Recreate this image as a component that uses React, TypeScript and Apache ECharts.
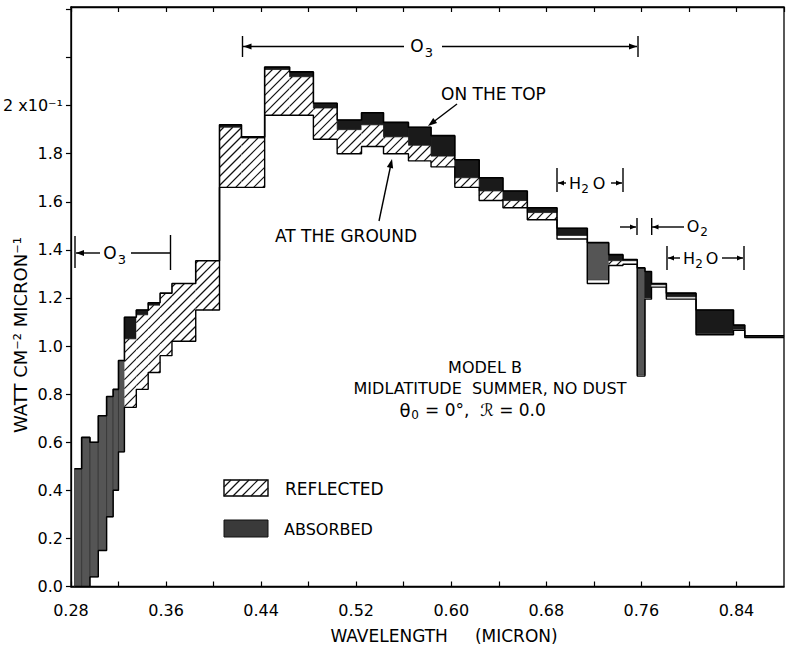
import React, { useEffect, useRef } from "react";
import * as echarts from "echarts";

// Wavelength bin edges (micron)
const binEdges = [
  0.283, 0.289, 0.296, 0.303, 0.31, 0.3155, 0.32, 0.325, 0.335, 0.345, 0.355,
  0.365, 0.385, 0.405, 0.4235, 0.443, 0.464, 0.484, 0.504, 0.5245, 0.543, 0.564,
  0.583, 0.603, 0.6235, 0.6435, 0.664, 0.689, 0.7145, 0.7325, 0.7445, 0.7565,
  0.763, 0.7685, 0.781, 0.806, 0.8375, 0.847, 0.88,
];
// Flux on the top of the atmosphere (x 10^-1 W cm^-2 micron^-1)
const topFlux = [
  0.49, 0.62, 0.6, 0.71, 0.79, 0.82, 0.94, 1.12, 1.15, 1.18, 1.22, 1.26, 1.355,
  1.92, 1.87, 2.16, 2.14, 2.01, 1.94, 1.97, 1.93, 1.91, 1.875, 1.775, 1.7, 1.645,
  1.575, 1.49, 1.43, 1.38, 1.36, 1.325, 1.31, 1.26, 1.22, 1.15, 1.087, 1.043,
];
// Flux at the ground
const groundFlux = [
  0, 0, 0.04, 0.15, 0.29, 0.4, 0.56, 0.745, 0.82, 0.89, 0.96, 1.02, 1.15, 1.66,
  1.66, 1.96, 1.96, 1.86, 1.8, 1.83, 1.8, 1.77, 1.745, 1.66, 1.605, 1.575, 1.525,
  1.445, 1.26, 1.335, 1.34, 0.875, 1.195, 1.245, 1.195, 1.047, 1.065, 1.035,
];
// Reflected part (the rest up to the top flux is absorbed)
const reflectedFlux = [
  0, 0, 0, 0, 0, 0, 0, 0.285, 0.31, 0.28, 0.26, 0.24, 0.205, 0.25, 0.205, 0.19,
  0.16, 0.13, 0.1, 0.09, 0.07, 0.065, 0.045, 0.04, 0.04, 0.03, 0.03, 0.015, 0.015,
  0.02, 0.015, 0.005, 0.005, 0.01, 0.01, 0.005, 0.005, 0.005,
];
const xTickValues = [0.28, 0.36, 0.44, 0.52, 0.6, 0.68, 0.76, 0.84];
const yTickLabels = ["0.0", "0.2", "0.4", "0.6", "0.8", "1.0", "1.2", "1.4", "1.6", "1.8", "2 x10⁻¹"];

const FONT = "'DejaVu Sans', 'Liberation Sans', sans-serif";
const X_MIN = 0.28, X_MAX = 0.88, Y_MAX = 2.41;
const G_LEFT = 70, G_TOP = 7, G_W = 714, G_H = 579.5;
const HATCH = 9;

function hatchLines(x0: number, yTop: number, x1: number, yBot: number, color = "#111") {
  const out: any[] = [];
  const cStart = Math.ceil((x0 + yTop) / HATCH) * HATCH;
  for (let c = cStart; c <= x1 + yBot; c += HATCH) {
    const xa = Math.max(x0, c - yBot);
    const xb = Math.min(x1, c - yTop);
    if (xb - xa > 0.6) {
      out.push({
        type: "line",
        shape: { x1: xa, y1: c - xa, x2: xb, y2: c - xb },
        style: { stroke: color, lineWidth: 1.2 },
      });
    }
  }
  return out;
}

const seg = (x1: number, y1: number, x2: number, y2: number, w = 1.4) => ({
  type: "line",
  silent: true,
  shape: { x1, y1, x2, y2 },
  style: { stroke: "#000", lineWidth: w },
});
const arrowHead = (tx: number, ty: number, dx: number, dy: number, len = 8, hw = 3) => {
  const n = Math.hypot(dx, dy);
  const ux = dx / n, uy = dy / n;
  const bx = tx - ux * len, by = ty - uy * len;
  return {
    type: "polygon",
    silent: true,
    shape: { points: [[tx, ty], [bx - uy * hw, by + ux * hw], [bx + uy * hw, by - ux * hw]] },
    style: { fill: "#000" },
  };
};
const txt = (text: string, x: number, y: number, size = 16, align = "center", rotation = 0) => ({
  type: "text",
  silent: true,
  x,
  y,
  rotation,
  style: {
    text,
    x: 0,
    y: 0,
    fontSize: size,
    fontFamily: FONT,
    fill: "#000",
    align,
    verticalAlign: "middle",
    textAlign: align,
    textVerticalAlign: "middle",
  },
});

export default function App() {
  const ref = useRef<HTMLDivElement>(null);
  useEffect(() => {
    document.body.style.margin = "0";
    const chart = echarts.init(ref.current!, null, { renderer: "svg" });

    const n = topFlux.length;
    const binData = topFlux.map((t, i) => [
      binEdges[i],
      binEdges[i + 1],
      groundFlux[i],
      groundFlux[i] + reflectedFlux[i],
      t,
    ]);
    const stepData = (vals: number[]) => {
      const d = vals.map((v, i) => [binEdges[i], v]);
      d.push([binEdges[n], vals[n - 1]]);
      return d;
    };

    const renderItem = (params: any, api: any) => {
      const x0 = api.value(0), x1 = api.value(1), g = api.value(2), r = api.value(3), t = api.value(4);
      const pG = api.coord([x0, g]);
      const pR = api.coord([x1, r]);
      const pT = api.coord([x1, t]);
      const children: any[] = [];
      if (r - g > 1e-6) {
        children.push({
          type: "rect",
          shape: { x: pG[0], y: pR[1], width: pR[0] - pG[0], height: pG[1] - pR[1] },
          style: { fill: "#fff" },
        });
        if (pG[1] - pR[1] > 4) children.push(...hatchLines(pG[0], pR[1], pR[0], pG[1]));
      }
      if (t - r > 1e-6) {
        const h = pR[1] - pT[1];
        children.push({
          type: "rect",
          shape: { x: pG[0], y: pT[1], width: pT[0] - pG[0], height: h },
          style: { fill: h > 30 ? "#555" : "#1a1a1a", stroke: h > 30 ? "#333" : "#1a1a1a", lineWidth: 0.8 },
        });
      }
      return { type: "group", children };
    };

    const axisFont = { fontFamily: FONT, fontSize: 16, color: "#000" };

    const graphic: any[] = [
      // axis titles
      txt("WATT CM⁻² MICRON⁻¹", 20, 335, 18, "center", Math.PI / 2),
      txt("WAVELENGTH     (MICRON)", 444, 636, 17),
      // O3 (top)
      seg(243, 46.5, 404, 46.5),
      seg(442, 46.5, 637, 46.5),
      seg(242.5, 36, 242.5, 57),
      seg(638, 36, 638, 57),
      arrowHead(243.5, 46.5, -1, 0),
      arrowHead(637, 46.5, 1, 0),
      txt("O", 417, 46, 17),
      txt("3", 429, 52, 13),
      // O3 (left)
      seg(76, 253, 100, 253),
      seg(131, 253, 170, 253),
      seg(75, 236, 75, 268),
      seg(170.5, 235, 170.5, 270),
      arrowHead(76, 253, -1, 0),
      txt("O", 110, 253, 17),
      txt("3", 122, 259, 13),
      // H2O (first)
      seg(557, 168, 557, 192),
      seg(623, 168, 623, 192),
      seg(558, 183, 566, 183),
      arrowHead(558, 183, -1, 0, 6, 2.5),
      seg(611, 183, 622, 183),
      arrowHead(622, 183, 1, 0, 6, 2.5),
      txt("H", 575, 183, 16),
      txt("2", 585, 189, 12),
      txt("O", 599, 183, 16),
      // O2
      seg(620, 227, 636, 227),
      arrowHead(636, 227, 1, 0, 6, 2.5),
      seg(637, 218, 637, 235),
      seg(651.7, 218, 651.7, 235),
      seg(652, 227, 684, 227),
      arrowHead(652.5, 227, -1, 0, 6, 2.5),
      txt("O", 693, 226, 16),
      txt("2", 704, 232, 12),
      // H2O (second)
      seg(667, 246, 667, 270),
      seg(744, 246, 744, 270),
      seg(668, 258, 680, 258),
      arrowHead(668, 258, -1, 0, 6, 2.5),
      seg(722, 258, 743, 258),
      arrowHead(743, 258, 1, 0, 6, 2.5),
      txt("H", 689, 258, 16),
      txt("2", 699, 264, 12),
      txt("O", 712, 258, 16),
      // curve labels
      txt("ON THE TOP", 441, 94, 17, "left"),
      seg(457, 104, 432, 123),
      arrowHead(428, 126, -29, 22, 9, 3.2),
      txt("AT THE GROUND", 275, 236, 17, "left"),
      seg(379, 221, 391, 164),
      arrowHead(392, 159, 14, -62, 9, 3.2),
      // model text
      txt("MODEL B", 485, 367, 16),
      txt("MIDLATITUDE  SUMMER, NO DUST", 490, 388, 16),
      txt("θ", 405, 410, 18),
      txt("0", 415, 415, 12),
      txt("= 0°,  ℛ = 0.0", 425, 410, 17, "left"),
      // legend
      {
        type: "rect",
        silent: true,
        shape: { x: 224, y: 480, width: 44, height: 16 },
        style: { fill: "#fff", stroke: "#000", lineWidth: 1.4 },
      },
      ...hatchLines(224, 480, 268, 496).map((e) => ({ ...e, silent: true })),
      txt("REFLECTED", 285, 489, 17, "left"),
      {
        type: "rect",
        silent: true,
        shape: { x: 224, y: 520, width: 44, height: 17 },
        style: { fill: "#3a3a3a", stroke: "#111", lineWidth: 1 },
      },
      txt("ABSORBED", 284, 529, 16, "left"),
    ];

    chart.setOption({
      animation: false,
      backgroundColor: "#fff",
      grid: {
        left: G_LEFT,
        top: G_TOP,
        width: G_W,
        height: G_H,
        show: true,
        borderColor: "#000",
        borderWidth: 1.3,
      },
      xAxis: [
        {
          type: "value",
          min: X_MIN,
          max: X_MAX,
          interval: 0.04,
          axisLine: { lineStyle: { color: "#000", width: 1.5 } },
          axisTick: { inside: true, length: 5, lineStyle: { color: "#000", width: 1.2 } },
          splitLine: { show: false },
          axisLabel: {
            ...axisFont,
            margin: 16,
            showMaxLabel: false,
            formatter: (v: number) => {
              const hit = xTickValues.find((t) => Math.abs(t - v) < 1e-6);
              return hit !== undefined ? hit.toFixed(2) : "";
            },
          },
        },
        {
          type: "value",
          position: "top",
          min: X_MIN,
          max: X_MAX,
          interval: 0.04,
          axisLine: { lineStyle: { color: "#000", width: 1.3 } },
          axisTick: { inside: true, length: 5, lineStyle: { color: "#000", width: 1.2 } },
          axisLabel: { show: false },
          splitLine: { show: false },
        },
      ],
      yAxis: {
        type: "value",
        min: 0,
        max: Y_MAX,
        interval: 0.2,
        axisLine: { show: true, lineStyle: { color: "#000", width: 1.3 } },
        axisTick: { show: true, length: 5, lineStyle: { color: "#000", width: 1.2 } },
        splitLine: { show: false },
        axisLabel: {
          ...axisFont,
          margin: 8,
          showMaxLabel: false,
          formatter: (v: number) => {
            const k = Math.round(v / 0.2);
            return Math.abs(k * 0.2 - v) < 1e-6 && k < yTickLabels.length ? yTickLabels[k] : "";
          },
        },
      },
      graphic,
      series: [
        {
          type: "custom",
          name: "bands",
          renderItem,
          encode: { x: [0, 1], y: [2, 3, 4] },
          data: binData,
          silent: true,
          z: 2,
        },
        {
          type: "line",
          name: "On the top",
          data: stepData(topFlux),
          step: "end",
          symbol: "none",
          lineStyle: { color: "#000", width: 1.6 },
          silent: true,
          z: 3,
        },
        {
          type: "line",
          name: "At the ground",
          data: stepData(groundFlux),
          step: "end",
          symbol: "none",
          lineStyle: { color: "#000", width: 1.4 },
          silent: true,
          z: 3,
        },
      ],
    });
    return () => chart.dispose();
  }, []);
  return <div ref={ref} style={{ width: 786, height: 658 }} />;
}
